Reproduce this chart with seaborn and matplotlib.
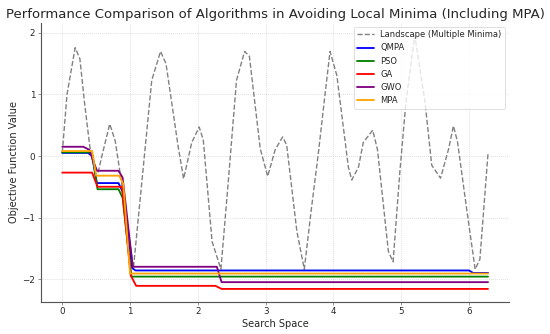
import matplotlib
matplotlib.use("Agg")
import matplotlib.pyplot as plt
import seaborn as sns

# landscape curve
land_x = [0.00, 0.07, 0.19, 0.26, 0.33, 0.41, 0.45, 0.53, 0.58, 0.70, 0.78, 0.85, 0.95, 1.05,
          1.32, 1.45, 1.53, 1.71, 1.79, 1.91, 2.02, 2.08, 2.21, 2.34, 2.45, 2.57, 2.69, 2.76,
          2.92, 3.03, 3.14, 3.25, 3.31, 3.46, 3.57, 3.67, 3.78, 3.88, 3.95, 4.05, 4.22, 4.27,
          4.37, 4.44, 4.58, 4.65, 4.81, 4.88, 4.98, 5.07, 5.20, 5.35, 5.45, 5.58, 5.70, 5.77,
          5.83, 5.97, 6.09, 6.16, 6.28]
land_y = [0.05, 1.00, 1.76, 1.58, 0.85, 0.12, -0.10, -0.26, -0.02, 0.52, 0.25, -0.25, -1.00, -1.82,
          1.23, 1.70, 1.50, 0.15, -0.37, 0.22, 0.47, 0.26, -1.39, -1.84, -0.40, 1.23, 1.70, 1.62,
          0.12, -0.33, 0.10, 0.31, 0.18, -1.22, -1.84, -0.90, 0.07, 1.04, 1.70, 1.31, -0.18, -0.39,
          -0.18, 0.22, 0.42, 0.10, -1.55, -1.72, -0.25, 0.88, 1.96, 0.88, -0.15, -0.36, 0.12, 0.49,
          0.23, -0.90, -1.84, -1.68, 0.04]

# best value found by each algorithm
qmpa_x = [0, 0.38, 0.44, 0.51, 0.83, 0.89, 1.03, 1.08, 6.00, 6.06, 6.28]
qmpa_y = [0.05, 0.05, 0.00, -0.44, -0.44, -0.58, -1.82, -1.86, -1.86, -1.90, -1.90]
pso_x = [0, 0.40, 0.45, 0.52, 0.83, 0.89, 1.02, 6.28]
pso_y = [0.06, 0.06, 0.00, -0.54, -0.54, -0.68, -1.96, -1.96]
ga_x = [0, 0.44, 0.52, 0.88, 1.01, 1.09, 2.26, 2.35, 6.28]
ga_y = [-0.27, -0.27, -0.50, -0.50, -1.94, -2.11, -2.11, -2.16, -2.16]
gwo_x = [0, 0.31, 0.40, 0.51, 0.83, 0.89, 1.04, 2.28, 2.35, 6.28]
gwo_y = [0.15, 0.15, 0.10, -0.24, -0.24, -0.35, -1.80, -1.80, -2.05, -2.05]
mpa_x = [0, 0.44, 0.50, 0.84, 0.90, 1.00, 6.28]
mpa_y = [0.08, 0.08, -0.32, -0.32, -0.45, -1.91, -1.91]

sns.set_style("white")
plt.rcParams['font.family'] = ['DejaVu Sans']

fig, ax = plt.subplots(figsize=(10, 6.073), dpi=55)
fig.subplots_adjust(left=0.0745, right=0.926, bottom=0.097, top=0.932)

sns.lineplot(x=land_x, y=land_y, ax=ax, color='gray', linestyle='--', linewidth=1.8,
             label='Landscape (Multiple Minima)')
sns.lineplot(x=qmpa_x, y=qmpa_y, ax=ax, color='blue', linewidth=2.4, label='QMPA')
sns.lineplot(x=pso_x, y=pso_y, ax=ax, color='green', linewidth=2.4, label='PSO')
sns.lineplot(x=ga_x, y=ga_y, ax=ax, color='red', linewidth=2.4, label='GA')
sns.lineplot(x=gwo_x, y=gwo_y, ax=ax, color='purple', linewidth=2.4, label='GWO')
sns.lineplot(x=mpa_x, y=mpa_y, ax=ax, color='orange', linewidth=2.4, label='MPA')

ax.set_title('Performance Comparison of Algorithms in Avoiding Local Minima (Including MPA)',
             fontsize=17.3)
ax.set_xlabel('Search Space', fontsize=13)
ax.set_ylabel('Objective Function Value', fontsize=13)
ax.tick_params(axis='both', labelsize=11.5, direction='out', length=4, color='#555555',
               left=True, bottom=True)
ax.grid(True, linestyle=':', color='#cccccc', linewidth=1)
for side in ['top', 'right']:
    ax.spines[side].set_visible(False)
for side in ['left', 'bottom']:
    ax.spines[side].set_color('#555555')
    ax.spines[side].set_linewidth(1.5)
ax.legend(loc='upper right', fontsize=11, framealpha=0.8)

plt.savefig('out.png')
